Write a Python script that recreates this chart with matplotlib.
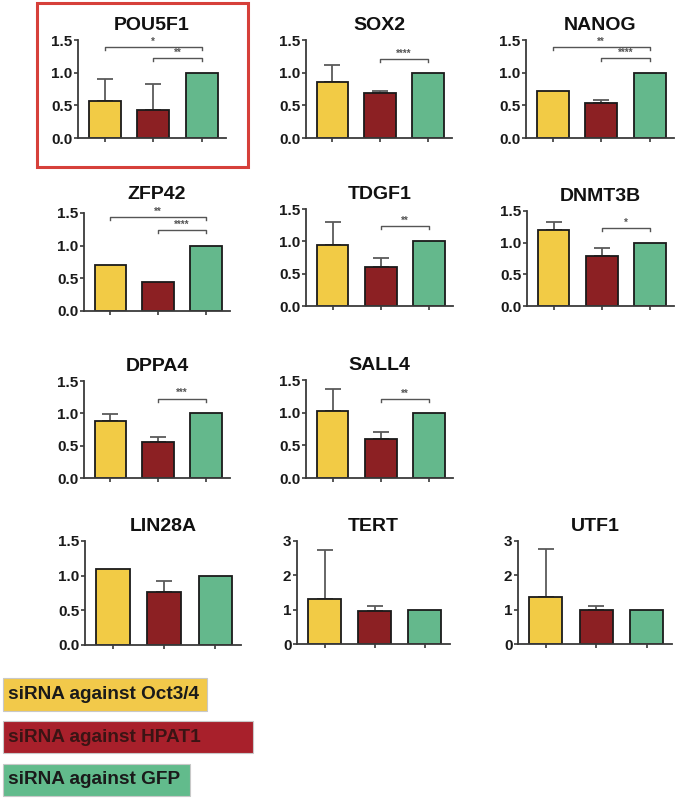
import matplotlib
matplotlib.use("Agg")
import matplotlib.pyplot as plt
from matplotlib.patches import Rectangle

plt.rcParams['font.family'] = ['Liberation Sans', 'DejaVu Sans']
plt.rcParams['font.weight'] = 'bold'

genes = ["POU5F1", "SOX2", "NANOG", "ZFP42", "TDGF1", "DNMT3B",
         "DPPA4", "SALL4", "LIN28A", "TERT", "UTF1"]
oct_mean = [0.57, 0.86, 0.72, 0.70, 0.95, 1.195, 0.88, 1.03, 1.09, 1.32, 1.38]
oct_err = [0.34, 0.25, 0.0, 0.0, 0.35, 0.125, 0.105, 0.335, 0.0, 1.43, 1.39]
hpat_mean = [0.43, 0.69, 0.53, 0.445, 0.60, 0.79, 0.55, 0.595, 0.77, 0.97, 0.98]
hpat_err = [0.40, 0.035, 0.05, 0.0, 0.145, 0.125, 0.085, 0.105, 0.16, 0.145, 0.14]
gfp_mean = [1.0, 1.0, 1.0, 1.0, 1.0, 1.0, 1.0, 1.0, 1.0, 1.0, 1.0]
gfp_err = [0.0] * 11

ymax = [1.5, 1.5, 1.5, 1.5, 1.5, 1.5, 1.5, 1.5, 1.5, 3, 3]
yticks_small = [0.0, 0.5, 1.0, 1.5]
yticklabels_small = ["0.0", "0.5", "1.0", "1.5"]
yticks_big = [0, 1, 2, 3]
yticklabels_big = ["0", "1", "2", "3"]

# significance brackets: gene, from group, to group, height, label
sig_gene = ["POU5F1", "POU5F1", "SOX2", "NANOG", "NANOG", "ZFP42", "ZFP42",
            "TDGF1", "DNMT3B", "DPPA4", "SALL4"]
sig_from = [0, 1, 1, 0, 1, 0, 1, 1, 1, 1, 1]
sig_to = [2, 2, 2, 2, 2, 2, 2, 2, 2, 2, 2]
sig_h = [1.39, 1.227, 1.21, 1.39, 1.227, 1.44, 1.234, 1.24, 1.226, 1.227, 1.21]
sig_lab = ["*", "**", "****", "**", "****", "**", "****", "**", "*", "***", "**"]

legend_labels = ["siRNA against Oct3/4", "siRNA against HPAT1", "siRNA against GFP"]
colors = ["#F2CB45", "#8C2023", "#64B88C"]
legend_colors = ["#F2C94A", "#A8202B", "#62BB8C"]
legend_text_colors = ["#1a1a1a", "#3a1414", "#1a1a1a"]

W, H = 680, 800
fig = plt.figure(figsize=(6.8, 8.0), dpi=100)

# axes boxes in pixels: left, right, top, bottom
boxes = [(78, 226, 40, 138), (306, 452, 40, 138), (526, 674, 40, 138),
         (84, 230, 213, 311), (306, 453, 209, 306), (527, 674, 211, 306),
         (84, 230, 381, 478), (306, 453, 380, 478),
         (85, 241, 541, 645), (297, 450, 541, 644), (518, 672, 541, 644)]
title_pad = [7, 7, 7, 10, 7, 7, 7, 7, 7, 7, 7]

axcol = "#3a3a3a"
for k, g in enumerate(genes):
    l, r, t, b = boxes[k]
    ax = fig.add_axes([l / W, 1 - b / H, (r - l) / W, (b - t) / H])
    means = [oct_mean[k], hpat_mean[k], gfp_mean[k]]
    errs = [oct_err[k], hpat_err[k], gfp_err[k]]
    for i in range(3):
        if errs[i] > 0:
            ax.errorbar(i, means[i], yerr=[[0], [errs[i]]], fmt='none',
                        ecolor="#5a5a5a", elinewidth=1.3, capsize=5.5,
                        capthick=1.3, zorder=1)
        ax.bar(i, means[i], width=0.66, color=colors[i], edgecolor="#1a1a1a",
               linewidth=1.3, zorder=2)
    ax.set_xlim(-0.55, 2.5)
    ax.set_ylim(0, ymax[k])
    if ymax[k] == 3:
        ax.set_yticks(yticks_big)
        ax.set_yticklabels(yticklabels_big)
    else:
        ax.set_yticks(yticks_small)
        ax.set_yticklabels(yticklabels_small)
    ax.set_xticks([0, 1, 2])
    ax.set_xticklabels([])
    for s in ["top", "right"]:
        ax.spines[s].set_visible(False)
    for s in ["left", "bottom"]:
        ax.spines[s].set_color(axcol)
        ax.spines[s].set_linewidth(1.3)
    ax.tick_params(axis='both', colors=axcol, length=3, width=1.2,
                   labelsize=11, labelcolor="#1a1a1a", pad=1)
    for lab in ax.get_yticklabels():
        lab.set_fontweight('bold')
    ax.set_title(g, fontsize=14, fontweight='bold', pad=title_pad[k],
                 color="#111111")
    for s in range(len(sig_gene)):
        if sig_gene[s] != g:
            continue
        x0, x1, h = sig_from[s], sig_to[s], sig_h[s]
        d = 0.045 * ymax[k] / 1.5
        ax.plot([x0, x0, x1, x1], [h - d, h, h, h - d], color="#555555",
                lw=1.0, clip_on=False, zorder=3)
        ax.text((x0 + x1) / 2, h + 0.005, sig_lab[s], ha='center', va='bottom',
                fontsize=7, color="#555555", clip_on=False)

# red highlight frame around POU5F1
fig.patches.append(Rectangle((37 / W, 1 - 167 / H), (248 - 37) / W, (167 - 3) / H,
                             transform=fig.transFigure, fill=False,
                             edgecolor="#D6403A", linewidth=2.2))

# legend boxes
leg_boxes = [(3, 207, 678, 711), (3, 253, 721, 753), (3, 190, 764, 796)]
for i, (l, r, t, b) in enumerate(leg_boxes):
    fig.patches.append(Rectangle((l / W, 1 - b / H), (r - l) / W, (b - t) / H,
                                 transform=fig.transFigure,
                                 facecolor=legend_colors[i], edgecolor="#c8c8c8",
                                 linewidth=0.8))
    fig.text(8 / W, 1 - ((t + b) / 2) / H, legend_labels[i], ha='left',
             va='center', fontsize=13.7, fontweight='bold',
             color=legend_text_colors[i])

fig.savefig("out.png", dpi=100)
